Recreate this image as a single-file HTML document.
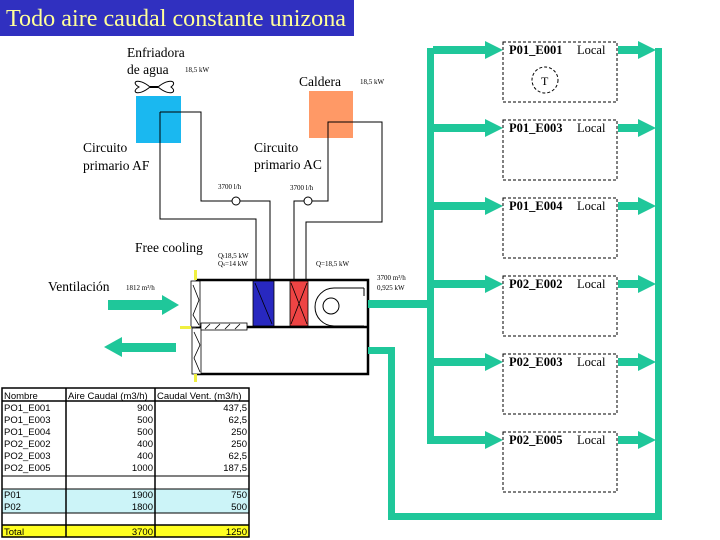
<!DOCTYPE html>
<html><head><meta charset="utf-8"><style>
body{margin:0;background:#fff;width:720px;height:540px;overflow:hidden}
svg{display:block}
text{font-family:"Liberation Serif",serif}
.t{font-family:"Liberation Sans",sans-serif;font-size:9.5px}
</style></head><body>
<svg width="720" height="540" viewBox="0 0 720 540" xmlns="http://www.w3.org/2000/svg">
<rect x="0" y="0" width="354" height="36" fill="#3030c0"/>
<text x="6" y="26" font-size="24" fill="#ffff99" textLength="340" lengthAdjust="spacingAndGlyphs">Todo aire caudal constante unizona</text>

<text x="127" y="57" font-size="13.5">Enfriadora</text>
<text x="127" y="74" font-size="13.5">de agua</text>
<text x="185" y="72" font-size="7">18,5 kW</text>
<path d="M150,87 C138,77 130,82 139,87 C130,92 138,97 150,87 L158,87 C170,77 178,82 171,87 C178,92 170,97 158,87" fill="none" stroke="#000" stroke-width="1"/>
<rect x="150" y="86" width="8" height="2" fill="#000"/>
<rect x="136" y="96" width="45" height="47" fill="#1ab8f0"/>
<text x="299" y="86" font-size="13.5">Caldera</text>
<text x="360" y="84" font-size="7">18,5 kW</text>
<rect x="309" y="91" width="44" height="47" fill="#ff9966"/>
<text x="83" y="152" font-size="13.5">Circuito</text>
<text x="83" y="170" font-size="13.5">primario AF</text>
<text x="254" y="152" font-size="13.5">Circuito</text>
<text x="254" y="169" font-size="13.5">primario AC</text>
<text x="218" y="189" font-size="7">3700 l/h</text>
<text x="290" y="190" font-size="7">3700 l/h</text>

<g fill="none" stroke="#000" stroke-width="1">
<path d="M160,112 H201 V201 H270 V280"/>
<path d="M160,112 V219 H256 V280"/>
<path d="M294,280 V201 H328 V122 H382 V222 H306 V280"/>
<circle cx="236" cy="201" r="4" fill="#fff"/>
<circle cx="308" cy="201" r="4" fill="#fff"/>
</g>

<text x="135" y="252" font-size="13.5">Free cooling</text>
<text x="218" y="258" font-size="7">Q<tspan font-size="5">t</tspan>18,5 kW</text>
<text x="218" y="266" font-size="7">Q<tspan font-size="5">s</tspan>=14 kW</text>
<text x="316" y="266" font-size="7">Q=18,5 kW</text>
<text x="48" y="291" font-size="13.5">Ventilación</text>
<text x="126" y="290" font-size="7">1812 m³/h</text>
<text x="377" y="280" font-size="7">3700 m³/h</text>
<text x="377" y="290" font-size="7">0,925 kW</text>

<!-- unit -->
<rect x="197" y="280" width="171" height="94" fill="#fff" stroke="#000" stroke-width="2.5"/>
<line x1="197" y1="327" x2="368" y2="327" stroke="#000" stroke-width="2.5"/>
<rect x="253" y="281" width="21" height="45" fill="#2828c0" stroke="#000" stroke-width="0.8"/>
<line x1="255" y1="283" x2="272" y2="324" stroke="#000" stroke-width="0.8"/>
<rect x="290" y="281" width="18" height="45" fill="#ee4444" stroke="#000" stroke-width="0.8"/>
<path d="M291,283 L307,324 M307,283 L291,324" stroke="#000" stroke-width="0.8"/>
<path d="M364,288 V296 M364,288 H334 A19,19 0 0 0 334,326 H364" fill="none" stroke="#000" stroke-width="1"/>
<circle cx="331" cy="306" r="8" fill="none" stroke="#000" stroke-width="1"/>
<rect x="191" y="281" width="9" height="46" fill="#fff" stroke="#000" stroke-width="0.8"/>
<rect x="192" y="328" width="9" height="46" fill="#fff" stroke="#000" stroke-width="0.8"/>
<rect x="201" y="323" width="46" height="7" fill="#fff" stroke="#000" stroke-width="0.8"/>
<path d="M193,285 L199,300 L193,315 L199,325 M194,332 L200,345 L194,358 L200,372 M205,329 L210,324 M215,329 L220,324 M225,329 L230,324 M235,329 L240,324" stroke="#000" stroke-width="0.8" fill="none"/>
<rect x="194" y="270" width="3" height="10" fill="#f0f040"/>
<rect x="180" y="326" width="11" height="3" fill="#f0f040"/>
<rect x="194" y="374" width="3" height="8" fill="#f0f040"/>

<!-- green arrows -->
<g fill="#1fc79a">
<rect x="108" y="300" width="56" height="10"/><polygon points="162,295 179,305 162,315"/>
<rect x="120" y="343" width="56" height="9"/><polygon points="122,337 104,347 122,357"/>
<rect x="368" y="300" width="65" height="8"/>
<rect x="427" y="48" width="7" height="396"/>
<rect x="388" y="347" width="7" height="173"/>
<rect x="368" y="347" width="27" height="7"/>
<rect x="388" y="513" width="273" height="7"/>
<rect x="655" y="48" width="7" height="472"/>
<rect x="433" y="46" width="56" height="8"/><polygon points="485,41 503,50 485,59"/>
<rect x="618" y="46" width="22" height="8"/><polygon points="638,41 656,50 638,59"/>
<rect x="433" y="124" width="56" height="8"/><polygon points="485,119 503,128 485,137"/>
<rect x="618" y="124" width="22" height="8"/><polygon points="638,119 656,128 638,137"/>
<rect x="433" y="202" width="56" height="8"/><polygon points="485,197 503,206 485,215"/>
<rect x="618" y="202" width="22" height="8"/><polygon points="638,197 656,206 638,215"/>
<rect x="433" y="280" width="56" height="8"/><polygon points="485,275 503,284 485,293"/>
<rect x="618" y="280" width="22" height="8"/><polygon points="638,275 656,284 638,293"/>
<rect x="433" y="358" width="56" height="8"/><polygon points="485,353 503,362 485,371"/>
<rect x="618" y="358" width="22" height="8"/><polygon points="638,353 656,362 638,371"/>
<rect x="430" y="436" width="59" height="8"/><polygon points="485,431 503,440 485,449"/>
<rect x="618" y="436" width="22" height="8"/><polygon points="638,431 656,440 638,449"/>
</g>
<g fill="none" stroke="#000" stroke-width="1" stroke-dasharray="3,2">
<rect x="503" y="42" width="114" height="60"/>
<rect x="503" y="120" width="114" height="60"/>
<rect x="503" y="198" width="114" height="60"/>
<rect x="503" y="276" width="114" height="60"/>
<rect x="503" y="354" width="114" height="60"/>
<rect x="503" y="432" width="114" height="60"/>
<circle cx="545" cy="80" r="13"/>
</g>
<text x="541" y="85" font-size="12">T</text>
<g font-size="12.5">
<text x="509" y="54" font-weight="bold">P01_E001</text><text x="577" y="54">Local</text>
<text x="509" y="132" font-weight="bold">P01_E003</text><text x="577" y="132">Local</text>
<text x="509" y="210" font-weight="bold">P01_E004</text><text x="577" y="210">Local</text>
<text x="509" y="288" font-weight="bold">P02_E002</text><text x="577" y="288">Local</text>
<text x="509" y="366" font-weight="bold">P02_E003</text><text x="577" y="366">Local</text>
<text x="509" y="444" font-weight="bold">P02_E005</text><text x="577" y="444">Local</text>
</g>

<!-- table -->
<rect x="2" y="489" width="247" height="24" fill="#ccf4f8"/>
<rect x="2" y="525" width="247" height="12" fill="#ffff20"/>
<g stroke="#000" fill="none">
<rect x="2" y="388" width="247" height="149" stroke-width="1.5"/>
<line x1="66" y1="388" x2="66" y2="537" stroke-width="1.5"/>
<line x1="155" y1="388" x2="155" y2="537" stroke-width="1.5"/>
<line x1="2" y1="401" x2="249" y2="401" stroke-width="1.5"/>
<line x1="2" y1="476" x2="249" y2="476" stroke-width="1"/>
<line x1="2" y1="489" x2="249" y2="489" stroke-width="1"/>
<line x1="2" y1="513" x2="249" y2="513" stroke-width="1"/>
<line x1="2" y1="525" x2="249" y2="525" stroke-width="1.5"/>
</g>
<g class="t">
<text x="4" y="399" class="t">Nombre</text><text x="68" y="399" class="t">Aire Caudal (m3/h)</text><text x="157" y="399" class="t">Caudal Vent. (m3/h)</text>
<text x="4" y="411" class="t">PO1_E001</text><text x="153" y="411" class="t" text-anchor="end">900</text><text x="247" y="411" class="t" text-anchor="end">437,5</text>
<text x="4" y="423" class="t">PO1_E003</text><text x="153" y="423" class="t" text-anchor="end">500</text><text x="247" y="423" class="t" text-anchor="end">62,5</text>
<text x="4" y="435" class="t">PO1_E004</text><text x="153" y="435" class="t" text-anchor="end">500</text><text x="247" y="435" class="t" text-anchor="end">250</text>
<text x="4" y="447" class="t">PO2_E002</text><text x="153" y="447" class="t" text-anchor="end">400</text><text x="247" y="447" class="t" text-anchor="end">250</text>
<text x="4" y="459" class="t">PO2_E003</text><text x="153" y="459" class="t" text-anchor="end">400</text><text x="247" y="459" class="t" text-anchor="end">62,5</text>
<text x="4" y="471" class="t">PO2_E005</text><text x="153" y="471" class="t" text-anchor="end">1000</text><text x="247" y="471" class="t" text-anchor="end">187,5</text>
<text x="4" y="498" class="t">P01</text><text x="153" y="498" class="t" text-anchor="end">1900</text><text x="247" y="498" class="t" text-anchor="end">750</text>
<text x="4" y="510" class="t">P02</text><text x="153" y="510" class="t" text-anchor="end">1800</text><text x="247" y="510" class="t" text-anchor="end">500</text>
<text x="4" y="535" class="t">Total</text><text x="153" y="535" class="t" text-anchor="end">3700</text><text x="247" y="535" class="t" text-anchor="end">1250</text>
</g>
</svg>
</body></html>
